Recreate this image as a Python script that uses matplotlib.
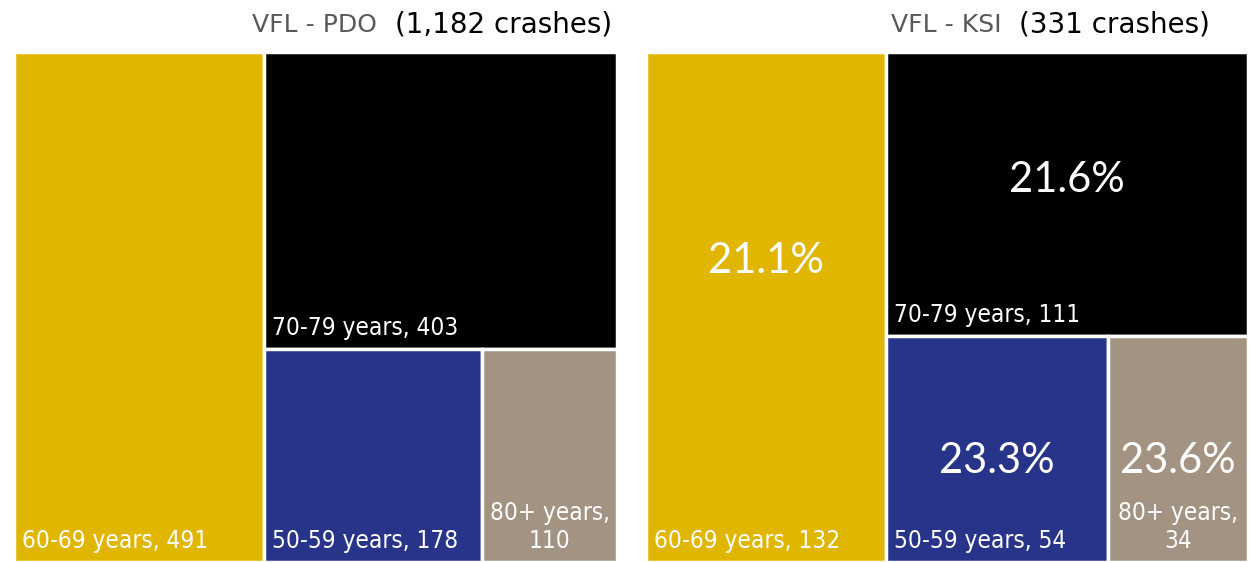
import matplotlib
matplotlib.use("Agg")
import matplotlib.pyplot as plt
from matplotlib.patches import Rectangle

# ------- data -------
groups = ["60-69 years", "70-79 years", "50-59 years", "80+ years"]
pdo_counts = [491, 403, 178, 110]
ksi_counts = [132, 111, 54, 34]
ksi_pct = ["21.1%", "21.6%", "23.3%", "23.6%"]
pdo_title = ("VFL - PDO", "(1,182 crashes)")
ksi_title = ("VFL - KSI", "(331 crashes)")

colors = ["#E1B600", "#000000", "#28348A", "#A39382"]

W, H = 1254, 562
LABEL_FONT = ["DejaVu Sans"]
THIN_FONT = ["Lato", "DejaVu Sans"]
TITLE_FONT = ["DejaVu Sans"]


def layout(values, x, y, w, h):
    # split the first item off along the longer side, recurse on the rest
    if not values:
        return []
    if len(values) == 1:
        return [(x, y, w, h)]
    frac = values[0] / sum(values)
    if w >= h:
        cw = w * frac
        return [(x, y, cw, h)] + layout(values[1:], x + cw, y, w - cw, h)
    ch = h * frac
    # first item goes on top
    return [(x, y + h - ch, w, ch)] + layout(values[1:], x, y, w, h - ch)


def draw_treemap(ax, counts, pct=None, pct_pos=None):
    rects = layout(counts, 0, 0, 1, 1)
    bbox = ax.get_position()
    pxw = bbox.width * W
    pxh = bbox.height * H
    for i, (rx, ry, rw, rh) in enumerate(rects):
        ax.add_patch(Rectangle((rx, ry), rw, rh, facecolor=colors[i],
                               edgecolor="white", linewidth=2.5))
        if groups[i].startswith("80"):
            ax.text(rx + rw / 2, ry + 9 / pxh, f"{groups[i]},\n{counts[i]}",
                    ha="center", va="bottom", color="white", fontsize=17.5,
                    family=LABEL_FONT, fontstretch="condensed",
                    linespacing=1.2)
        else:
            ax.text(rx + 8 / pxw, ry + 9 / pxh, f"{groups[i]}, {counts[i]}",
                    ha="left", va="bottom", color="white", fontsize=17.5,
                    family=LABEL_FONT, fontstretch="condensed")
        if pct is not None:
            fx, fy = pct_pos[i]
            ax.text(rx + rw * fx, ry + rh * fy, pct[i], ha="center",
                    va="center", color="white", fontsize=30,
                    family=THIN_FONT)
    ax.set_xlim(0, 1)
    ax.set_ylim(0, 1)
    ax.axis("off")


fig = plt.figure(figsize=(W / 100, H / 100), dpi=100)

ax1 = fig.add_axes([14 / W, 0, 603 / W, 510 / H])
ax2 = fig.add_axes([646 / W, 0, 602 / W, 510 / H])

draw_treemap(ax1, pdo_counts)
draw_treemap(ax2, ksi_counts, ksi_pct,
             [(0.5, 0.59), (0.5, 0.55), (0.5, 0.45), (0.5, 0.45)])


def title(parts, gray_end, black_start):
    fig.text(gray_end / W, 1 - 25 / H, parts[0], ha="right", va="center",
             color="#595959", fontsize=18, family=TITLE_FONT)
    fig.text(black_start / W, 1 - 25 / H, parts[1], ha="left", va="center",
             color="#000000", fontsize=20, family=TITLE_FONT)


title(pdo_title, 377, 395)
title(ksi_title, 1002, 1019)

fig.savefig("out.png", dpi=100, facecolor="white")
